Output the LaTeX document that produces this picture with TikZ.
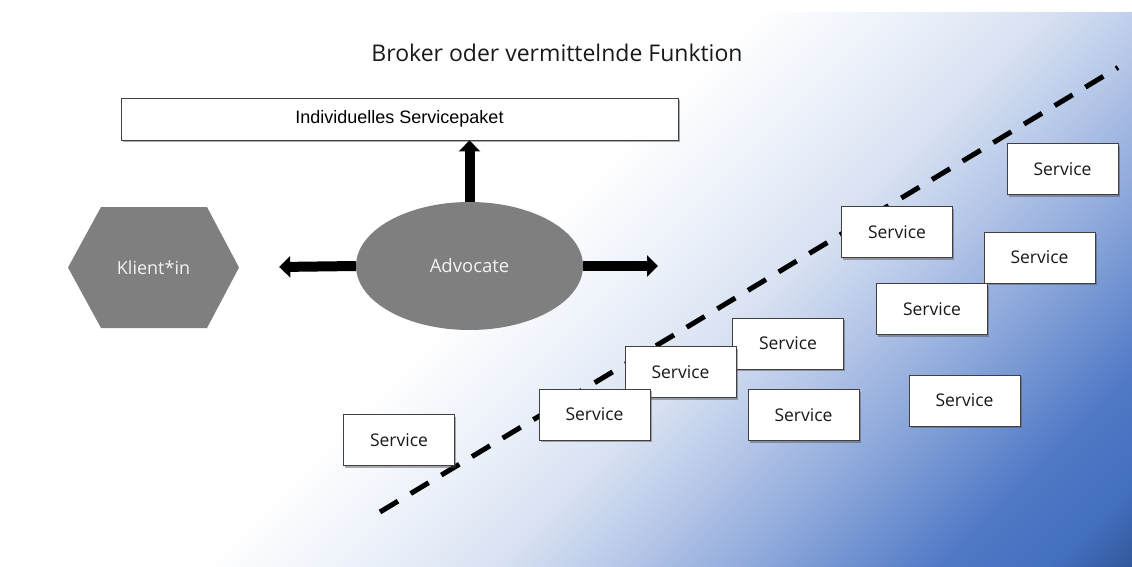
\documentclass[tikz,border=0pt]{standalone}
\usepackage{fontspec}
\setmainfont{Open Sans}
\newfontfamily\arialfont{Liberation Sans}
\usetikzlibrary{arrows.meta,shapes.geometric,shadows}

\definecolor{grau}{HTML}{7F7F7F}
\definecolor{rahmen}{HTML}{404040}
\definecolor{blauA}{HTML}{E8EEF8}
\definecolor{blauB}{HTML}{D8E2F2}
\definecolor{blauC}{HTML}{B5C6E8}
\definecolor{blauD}{HTML}{8AA6DA}
\definecolor{blauE}{HTML}{5079C6}
\definecolor{blauF}{HTML}{4470C0}
\definecolor{blauG}{HTML}{2F5597}

\pgfdeclarehorizontalshading{hintergrund}{100bp}{color(0bp)=(white); color(46bp)=(white);
  color(54bp)=(blauA); color(58.5bp)=(blauB); color(64bp)=(blauC); color(70bp)=(blauD);
  color(77.5bp)=(blauE); color(82bp)=(blauF); color(86bp)=(blauG); color(100bp)=(blauG)}

\tikzset{
  kasten/.style={rectangle, draw=rahmen, line width=0.8pt, fill=white, inner sep=0pt,
    drop shadow={shadow xshift=1.5pt, shadow yshift=-2pt, fill=black!70, opacity=.45}},
  service/.style={kasten, minimum width=111pt, minimum height=51pt,
    font=\fontsize{17.5}{20}\selectfont, text=black!90},
  pfeil/.style={line width=10pt, -{Triangle[width=21pt,length=11pt]}}
}

\begin{document}
\begin{tikzpicture}[
    x=1pt, y=-1pt,
    paket/.style={kasten, minimum width=557pt, minimum height=42pt,
      font=\arialfont\fontsize{18}{20}\selectfont},
    advocate/.style={ellipse, fill=grau, inner sep=0pt, minimum width=227pt,
      minimum height=128pt, text=white!95!black, font=\fontsize{18.5}{20}\selectfont},
    klient/.style={rectangle, inner sep=0pt, minimum width=171pt, minimum height=121pt,
      text=white!95!black, font=\fontsize{18}{20}\selectfont}
  ]
  \useasboundingbox (0,0) rectangle (1132,566);
  \fill[white] (0,0) rectangle (1132,566);
  \shade[shading=hintergrund, shading angle=-45] (8,12) rectangle (1132,566);

  \node (titel) [font=\fontsize{23}{26}\selectfont, text=black!90] at (557,53)
    {Broker oder vermittelnde Funktion};
  \node (pkt) [paket] at (399.5,119) {Individuelles Servicepaket};

  % Klient*in
  \fill[grau] (68,267.5) -- (101,207) -- (207,207) -- (239,267.5) -- (207,328) -- (101,328) -- cycle;
  \node (kli) [klient] at (153.5,267.5) {Klient*in};
  \node (adv) [advocate] at (469.5,266) {Advocate};
  \coordinate (rechts) at (658,266);

  \draw[pfeil] (adv.north) -- (adv.north |- pkt.south);
  \draw[pfeil, shorten >=40pt] (adv.west) -- (kli.east);
  \draw[pfeil] (adv.east) -- (rechts);

  % Trennlinie
  \coordinate (dashA) at (380,512);
  \coordinate (dashB) at (1118,67.5);
  \draw[line width=5pt, dash pattern=on 21pt off 14.8pt] (dashA) -- (dashB);

  % Services
  \node (s1) [service] at (1062.5,169) {Service};
  \node (s2) [service] at (897,232) {Service};
  \node (s3) [service] at (1039.5,257.5) {Service};
  \node (s4) [service] at (932,309) {Service};
  \node (s5) [service] at (788,343.5) {Service};
  \node (s6) [service] at (680.5,372) {Service};
  \node (s7) [service] at (594.5,414.5) {Service};
  \node (s8) [service] at (803.5,415) {Service};
  \node (s9) [service] at (964.5,400.5) {Service};
  \node (s10) [service] at (399,440) {Service};
\end{tikzpicture}
\end{document}
